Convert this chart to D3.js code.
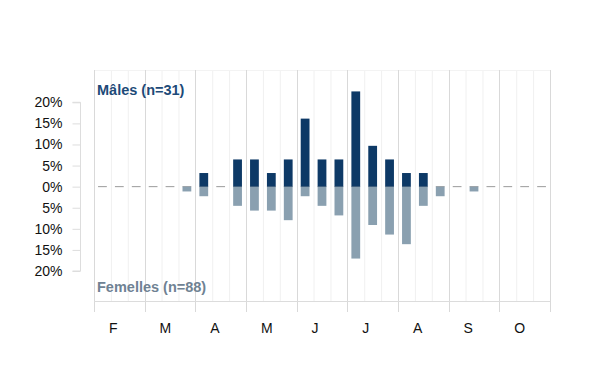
<!DOCTYPE html>
<html>
<head>
<meta charset="utf-8">
<script src="https://cdn.jsdelivr.net/npm/d3@7"></script>
<style>
  html, body { margin: 0; padding: 0; background: #fff; }
  svg { display: block; font-family: "Liberation Sans", Arial, sans-serif; }
</style>
</head>
<body>
<svg id="chart" width="600" height="390"></svg>
<script>
// Months shown on the x axis (each divided into three 10-day periods)
const months = ["F", "M", "A", "M", "J", "J", "A", "S", "O"];
const decadesPerMonth = 3;
// Slot index (month*3 + decade) of each observation period
const slots = d3.range(27);
// Percentage of males (n=31) per 10-day period
const males = [0, 0, 0, 0, 0, 0, 3.23, 0, 6.45, 6.45, 3.23, 6.45, 16.13, 6.45, 6.45, 22.58, 9.68, 6.45, 3.23, 3.23, 0, 0, 0, 0, 0, 0, 0];
// Percentage of females (n=88) per 10-day period
const females = [0, 0, 0, 0, 0, 1.14, 2.27, 0, 4.55, 5.68, 5.68, 7.95, 2.27, 4.55, 6.82, 17.05, 9.09, 11.36, 13.64, 4.55, 2.27, 0, 1.14, 0, 0, 0, 0];
const yTicks = [-20, -15, -10, -5, 0, 5, 10, 15, 20];
const maleLabel = "Mâles (n=31)";
const femaleLabel = "Femelles (n=88)";

const svg = d3.select("#chart");
const pLeft = 94, pRight = 550, pTop = 70, pBottom = 301;

const x = d3.scaleBand().domain(slots).range([pLeft, pRight]).paddingInner(0).paddingOuter(0);
const slotW = x.step();
const monthX = d3.scaleLinear().domain([0, months.length]).range([pLeft, pRight]);
const y = d3.scaleLinear().domain([-20, 20]).range([271, 102.3]);
const barW = slotW * 0.52;

// minor grid (10-day periods)
svg.append("g").selectAll("line")
  .data(slots.filter(i => i % decadesPerMonth !== 0))
  .join("line")
  .attr("x1", i => x(i) + 0.5).attr("x2", i => x(i) + 0.5)
  .attr("y1", pTop).attr("y2", pBottom)
  .attr("stroke", "#f0f0f0").attr("stroke-width", 1);

// top faint line
svg.append("line")
  .attr("x1", pLeft).attr("x2", pRight).attr("y1", pTop + 0.5).attr("y2", pTop + 0.5)
  .attr("stroke", "#f3f3f3");

// major grid (months)
svg.append("g").selectAll("line")
  .data(d3.range(months.length + 1))
  .join("line")
  .attr("x1", k => Math.round(monthX(k)) + 0.5).attr("x2", k => Math.round(monthX(k)) + 0.5)
  .attr("y1", pTop).attr("y2", pBottom + 11)
  .attr("stroke", "#d9d9d9").attr("stroke-width", 1);

// bottom line
svg.append("line")
  .attr("x1", pLeft).attr("x2", pRight).attr("y1", pBottom + 0.5).attr("y2", pBottom + 0.5)
  .attr("stroke", "#dcdcdc");

// zero dashed line
svg.append("line")
  .attr("x1", x(0) + (slotW - barW) / 2).attr("x2", pRight)
  .attr("y1", y(0)).attr("y2", y(0))
  .attr("stroke", "#9a9a9a").attr("stroke-width", 1)
  .attr("stroke-dasharray", `${barW},${slotW - barW}`);

// female bars (downwards)
svg.append("g").selectAll("rect")
  .data(slots.filter(i => females[i] > 0))
  .join("rect")
  .attr("x", i => x(i) + (slotW - barW) / 2)
  .attr("width", barW)
  .attr("y", y(0))
  .attr("height", i => y(-females[i]) - y(0))
  .attr("fill", "#8aa0b0");

// male bars (upwards)
svg.append("g").selectAll("rect")
  .data(slots.filter(i => males[i] > 0))
  .join("rect")
  .attr("x", i => x(i) + (slotW - barW) / 2)
  .attr("width", barW)
  .attr("y", i => y(males[i]))
  .attr("height", i => y(0) - y(males[i]))
  .attr("fill", "#0d3966");

// y axis
const yAxis = d3.axisLeft(y).tickValues(yTicks).tickSize(8).tickPadding(10)
  .tickFormat(d => Math.abs(d) + "%");
const ga = svg.append("g").attr("transform", "translate(80.5,0)").call(yAxis);
ga.select(".domain").attr("stroke", "#dddddd").attr("d", `M-8,${y(20)}H0V${y(-20)}H-8`);
ga.selectAll(".tick line").attr("stroke", "#dddddd");
ga.selectAll(".tick text").attr("fill", "#111").style("font-size", "14px")
  .style("font-family", "'Liberation Sans', Arial, sans-serif");

// month labels
svg.append("g").selectAll("text")
  .data(months)
  .join("text")
  .attr("x", (m, k) => monthX(k) + slotW - 2)
  .attr("y", 333)
  .attr("text-anchor", "start")
  .attr("fill", "#111")
  .style("font-size", "14px")
  .text(m => m);

// series labels
svg.append("text").attr("x", 97).attr("y", 95)
  .attr("fill", "#1d4a78").style("font-size", "14.5px").style("font-weight", "bold")
  .text(maleLabel);
svg.append("text").attr("x", 97).attr("y", 292)
  .attr("fill", "#6f8293").style("font-size", "14.5px").style("font-weight", "bold")
  .text(femaleLabel);
</script>
</body>
</html>
